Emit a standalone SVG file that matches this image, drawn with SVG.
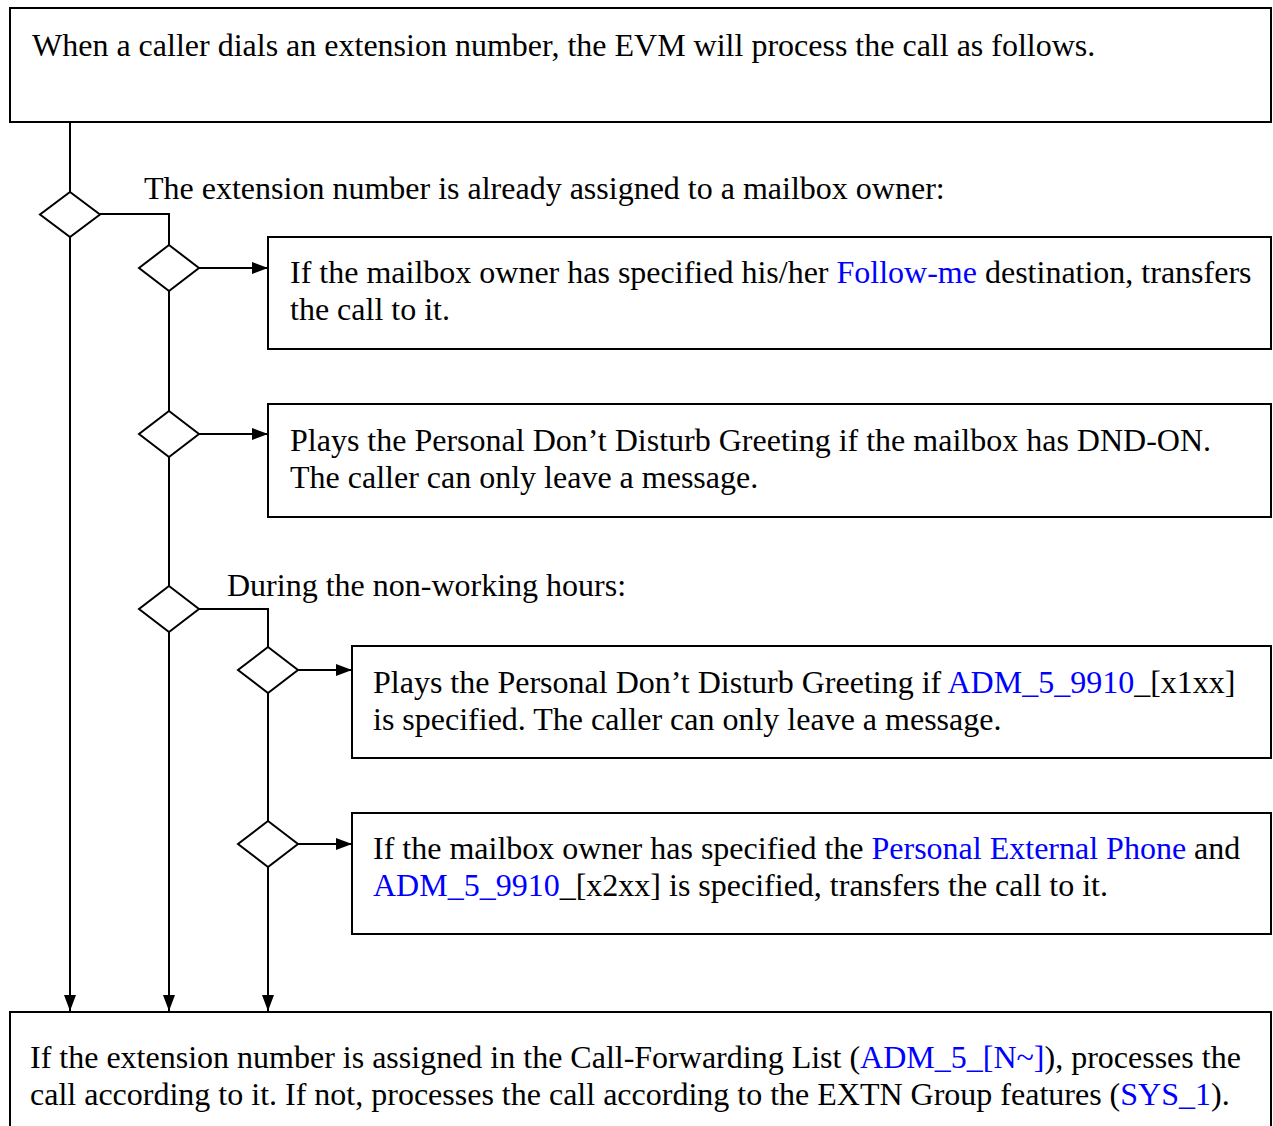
<svg xmlns="http://www.w3.org/2000/svg" width="1273" height="1126" viewBox="0 0 1273 1126">
  <style>
    .box { fill: #ffffff; stroke: #000000; stroke-width: 2; }
    .dia { fill: #ffffff; stroke: #000000; stroke-width: 2; }
    .wire { fill: none; stroke: #000000; stroke-width: 2; }
    text { font-family: "Liberation Serif", "Times New Roman", serif; font-size: 32px; fill: #000000; }
    .link { fill: #0000ff; }
  </style>
  <defs>
    <marker id="arrow" viewBox="0 0 16 12" refX="16" refY="6" markerWidth="16" markerHeight="12" markerUnits="userSpaceOnUse" orient="auto">
      <path d="M0,0 L16,6 L0,12 Z" fill="#000000"/>
    </marker>
  </defs>
  <rect width="1273" height="1126" fill="#ffffff"/>

  <!-- connectors -->
  <g id="connectors">
    <!-- main trunk -->
    <line class="wire" x1="70" y1="122" x2="70" y2="192"/>
    <line class="wire" x1="70" y1="237" x2="70" y2="1011" marker-end="url(#arrow)"/>
    <!-- mailbox owner branch -->
    <polyline class="wire" points="100,214 169,214 169,245"/>
    <line class="wire" x1="199" y1="268" x2="268" y2="268" marker-end="url(#arrow)"/>
    <line class="wire" x1="169" y1="291" x2="169" y2="411"/>
    <line class="wire" x1="199" y1="434" x2="268" y2="434" marker-end="url(#arrow)"/>
    <line class="wire" x1="169" y1="457" x2="169" y2="586"/>
    <line class="wire" x1="169" y1="632" x2="169" y2="1011" marker-end="url(#arrow)"/>
    <!-- non-working hours branch -->
    <polyline class="wire" points="199,609 268,609 268,647"/>
    <line class="wire" x1="298" y1="670" x2="352" y2="670" marker-end="url(#arrow)"/>
    <line class="wire" x1="268" y1="693" x2="268" y2="821"/>
    <line class="wire" x1="298" y1="844" x2="352" y2="844" marker-end="url(#arrow)"/>
    <line class="wire" x1="268" y1="867" x2="268" y2="1011" marker-end="url(#arrow)"/>
  </g>

  <g id="start">
    <rect class="box" x="10" y="8" width="1261" height="114"/>
    <text x="32" y="56">When a caller dials an extension number, the EVM will process the call as follows.</text>
  </g>

  <g id="decision-owner">
    <polygon class="dia" points="70,192 100,214.5 70,237 40,214.5"/>
    <text x="144" y="199">The extension number is already assigned to a mailbox owner:</text>
  </g>

  <g id="decision-followme">
    <polygon class="dia" points="169,245 199,268 169,291 139,268"/>
  </g>
  <g id="followme">
    <rect class="box" x="268" y="237" width="1003" height="112"/>
    <text x="290" y="283">If the mailbox owner has specified his/her <tspan class="link">Follow-me</tspan> destination, transfers</text>
    <text x="290" y="320">the call to it.</text>
  </g>

  <g id="decision-dnd">
    <polygon class="dia" points="169,411 199,434 169,457 139,434"/>
  </g>
  <g id="dnd">
    <rect class="box" x="268" y="404" width="1003" height="113"/>
    <text x="290" y="451">Plays the Personal Don’t Disturb Greeting if the mailbox has DND-ON.</text>
    <text x="290" y="488">The caller can only leave a message.</text>
  </g>

  <g id="decision-hours">
    <polygon class="dia" points="169,586 199,609 169,632 139,609"/>
    <text x="227" y="596">During the non-working hours:</text>
  </g>

  <g id="decision-x1xx">
    <polygon class="dia" points="268,647 298,670 268,693 238,670"/>
  </g>
  <g id="greeting-x1xx">
    <rect class="box" x="352" y="646" width="919" height="112"/>
    <text x="373" y="693">Plays the Personal Don’t Disturb Greeting if <tspan class="link">ADM_5_9910</tspan>_[x1xx]</text>
    <text x="373" y="730">is specified. The caller can only leave a message.</text>
  </g>

  <g id="decision-x2xx">
    <polygon class="dia" points="268,821 298,844 268,867 238,844"/>
  </g>
  <g id="external-x2xx">
    <rect class="box" x="352" y="813" width="919" height="121"/>
    <text x="373" y="859">If the mailbox owner has specified the <tspan class="link">Personal External Phone</tspan> and</text>
    <text x="373" y="896"><tspan class="link">ADM_5_9910</tspan>_[x2xx] is specified, transfers the call to it.</text>
  </g>

  <g id="fallback">
    <rect class="box" x="10" y="1012" width="1261" height="130"/>
    <text x="30" y="1068">If the extension number is assigned in the Call-Forwarding List (<tspan class="link">ADM_5_[N~]</tspan>), processes the</text>
    <text x="30" y="1105">call according to it. If not, processes the call according to the EXTN Group features (<tspan class="link">SYS_1</tspan>).</text>
  </g>
</svg>
